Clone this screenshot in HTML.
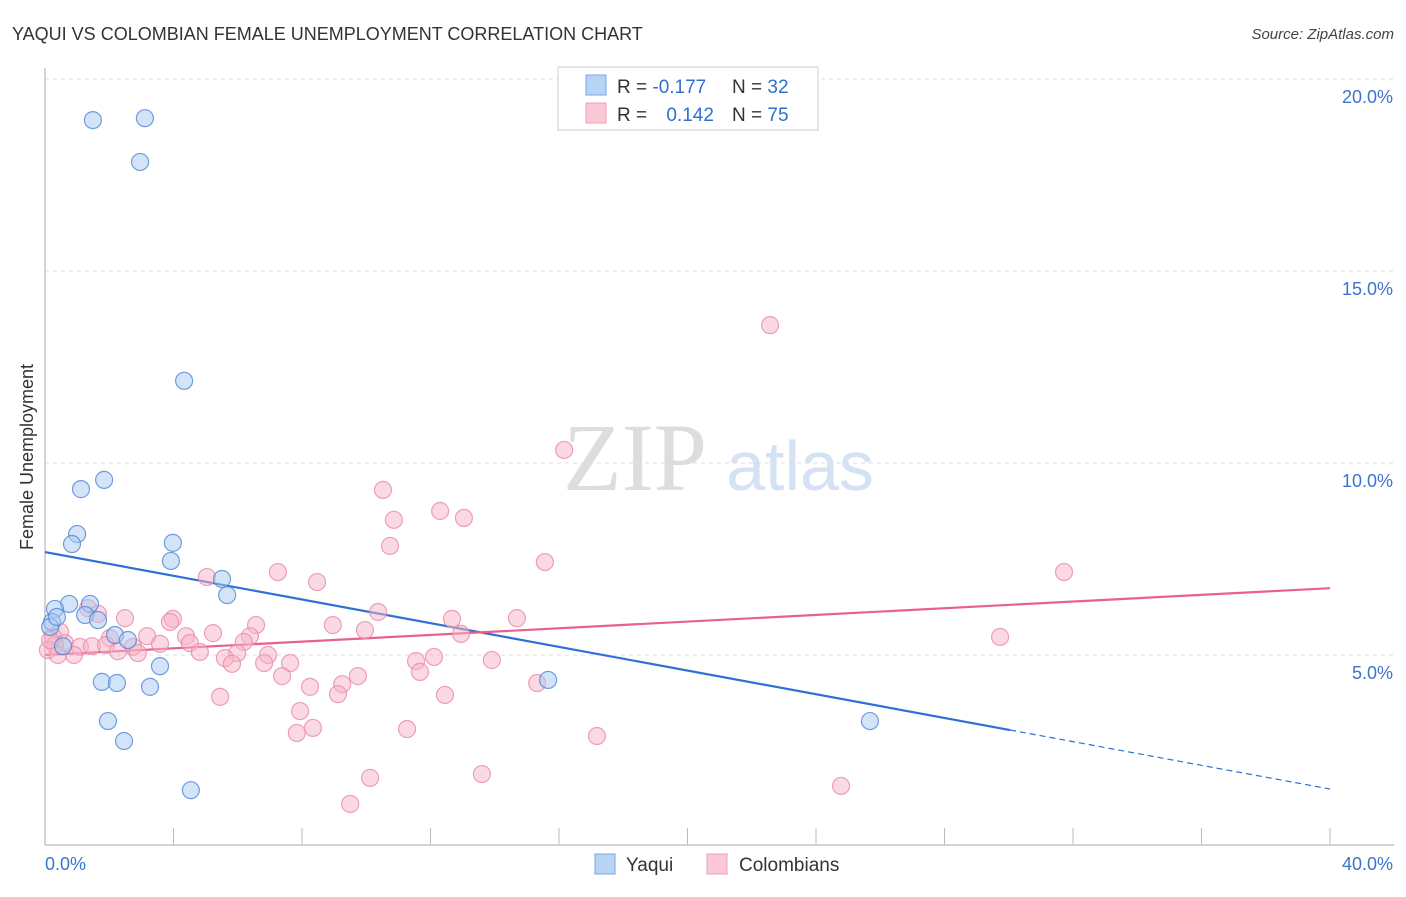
<!DOCTYPE html>
<html><head><meta charset="utf-8"><style>
body{margin:0;background:#fff;font-family:"Liberation Sans",sans-serif}
</style></head><body>
<svg id="chart" width="1406" height="892" xmlns="http://www.w3.org/2000/svg" font-family="Liberation Sans, sans-serif">
<text x="12" y="40" font-size="18" fill="#333">YAQUI VS COLOMBIAN FEMALE UNEMPLOYMENT CORRELATION CHART</text>
<text x="1394" y="39" font-size="15" fill="#444" text-anchor="end" font-style="italic">Source: ZipAtlas.com</text>
<text transform="translate(33,457) rotate(-90)" font-size="18" fill="#333" text-anchor="middle">Female Unemployment</text>
<g>
<text x="635" y="490" font-size="96" fill="#ddd" font-family="Liberation Serif, serif" text-anchor="middle">ZIP</text>
<text x="800" y="490" font-size="70" fill="#d4e2f4" text-anchor="middle">atlas</text>
</g>
<g id="grid"></g><g id="axes"></g><g id="trends"></g><g id="points"></g>
<g>
<rect x="558" y="67" width="260" height="63" fill="#fff" stroke="#ccc"/>
<rect x="586" y="75" width="20" height="20" fill="#b8d4f5" stroke="#7aa6e0"/>
<rect x="586" y="103" width="20" height="20" fill="#fbc8d6" stroke="#eca0b8"/>
<text x="617" y="93" font-size="19" fill="#333">R = <tspan fill="#2f6fce">-0.177</tspan></text>
<text x="732" y="93" font-size="19" fill="#333">N = <tspan fill="#2f6fce">32</tspan></text>
<text x="617" y="121" font-size="19" fill="#333">R = <tspan fill="#2f6fce" dx="14">0.142</tspan></text>
<text x="732" y="121" font-size="19" fill="#333">N = <tspan fill="#2f6fce">75</tspan></text>
</g>
<g>
<rect x="595" y="854" width="20" height="20" fill="#b8d4f5" stroke="#7aa6e0"/>
<text x="626" y="871" font-size="19" fill="#333">Yaqui</text>
<rect x="707" y="854" width="20" height="20" fill="#fbc8d6" stroke="#eca0b8"/>
<text x="739" y="871" font-size="19" fill="#333">Colombians</text>
</g>
</svg>
<script>
const xTicks=[0,40];
const yTicks=[5,10,15,20];
const yaquiX=[1.49,3.11,2.96,4.33,1.84,1.12,1.00,0.84,3.98,3.92,5.51,5.67,0.75,1.40,0.31,1.25,1.65,0.22,0.16,2.18,2.58,0.56,3.58,1.77,2.24,3.27,1.96,2.46,4.54,15.66,25.68,0.37];
const yaquiY=[18.93,18.98,17.84,12.14,9.56,9.32,8.15,7.89,7.92,7.45,6.98,6.56,6.33,6.33,6.20,6.04,5.91,5.86,5.73,5.52,5.39,5.23,4.71,4.30,4.27,4.17,3.28,2.76,1.48,4.35,3.28,5.99];
const colX=[22.57,16.16,10.52,12.30,13.04,10.86,10.74,15.56,31.72,5.04,7.25,8.47,1.34,1.65,2.49,10.37,12.67,14.69,3.98,3.89,6.57,8.96,9.96,5.23,4.39,3.18,2.02,0.47,0.25,6.38,6.19,12.95,29.73,0.62,1.09,1.46,1.90,2.74,3.58,4.51,2.27,0.90,2.89,4.82,5.98,6.94,5.60,5.82,7.63,6.82,12.11,11.55,13.91,11.67,7.38,9.74,9.25,8.25,15.32,9.12,5.45,12.45,7.94,7.84,8.34,11.27,17.18,13.60,10.12,9.50,24.78,0.31,0.09,0.16,0.40];
const colY=[13.59,10.34,9.30,8.75,8.57,8.52,7.84,7.42,7.16,7.03,7.16,6.90,6.22,6.07,5.96,6.12,5.94,5.96,5.94,5.86,5.78,5.78,5.65,5.57,5.49,5.49,5.44,5.60,5.47,5.49,5.34,5.55,5.47,5.31,5.21,5.23,5.26,5.21,5.29,5.31,5.10,5.00,5.05,5.08,5.05,5.00,4.92,4.77,4.79,4.79,4.95,4.84,4.87,4.56,4.45,4.45,4.24,4.17,4.27,3.98,3.91,3.96,3.54,2.97,3.10,3.07,2.89,1.90,1.80,1.12,1.59,5.26,5.13,5.39,5.00];
const yaquiTrend=[7.68,1.51]; const yaquiSolidEnd=30.04;
const colTrend=[5.0,6.74];
const NS='http://www.w3.org/2000/svg';
const X=v=>45+v*32.125, Y=v=>847-v*38.4;
function mk(t,p,a){const e=document.createElementNS(NS,t);for(const k in a)e.setAttribute(k,a[k]);p.appendChild(e);return e;}
const grid=document.getElementById('grid'),axes=document.getElementById('axes'),tr=document.getElementById('trends'),pts=document.getElementById('points');
yTicks.forEach(t=>{
 const l=mk('line',grid,{x1:45,x2:1394,y1:Y(t),y2:Y(t),stroke:'#ddd','stroke-dasharray':'4,4'});
 
 
 const tx=mk('text',axes,{x:1393,y:Y(t)+24,'font-size':18,fill:'#3a74d0','text-anchor':'end'});
 tx.textContent=t.toFixed(1)+'%';
 
 
});
const ax=mk('line',axes,{x1:45,x2:1394,y1:845,y2:845,stroke:'#aaa'});


const ay=mk('line',axes,{x1:45,x2:45,y1:68,y2:845,stroke:'#aaa'});


for(let i=1;i<=10;i++){const tk=mk('line',axes,{x1:X(i*4),x2:X(i*4),y1:828,y2:845,stroke:'#bbb'});
 
 }
xTicks.forEach((t,i)=>{const tx=mk('text',axes,{x:i?1393:45,y:870,'font-size':18,fill:'#3a74d0','text-anchor':i?'end':'start'});
 tx.textContent=t.toFixed(1)+'%';
 
 });
function pt(x,y,f,s,n){const c=mk('circle',pts,{cx:X(x),cy:Y(y),r:8.5,fill:f,'fill-opacity':0.5,stroke:s,'stroke-opacity':0.8,'stroke-width':1.2});
 
 }
colX.forEach((x,i)=>pt(x,colY[i],'#f7b3c7','#ea8aa8','colombians-point'));
yaquiX.forEach((x,i)=>pt(x,yaquiY[i],'#a9c9f1','#4f87d6','yaqui-point'));
const yAt=(a,x)=>a[0]+(a[1]-a[0])*x/40;
const l1=mk('line',tr,{x1:X(0),y1:Y(yAt(yaquiTrend,0)),x2:X(yaquiSolidEnd),y2:Y(yAt(yaquiTrend,yaquiSolidEnd)),stroke:'#2f6fd6','stroke-width':2.2});


const l2=mk('line',tr,{x1:X(yaquiSolidEnd),y1:Y(yAt(yaquiTrend,yaquiSolidEnd)),x2:X(40),y2:Y(yAt(yaquiTrend,40)),stroke:'#2f6fd6','stroke-width':1.2,'stroke-dasharray':'6,4'});


const l3=mk('line',tr,{x1:X(0),y1:Y(colTrend[0]),x2:X(40),y2:Y(colTrend[1]),stroke:'#e8608f','stroke-width':2.2});


</script>
</body></html>
